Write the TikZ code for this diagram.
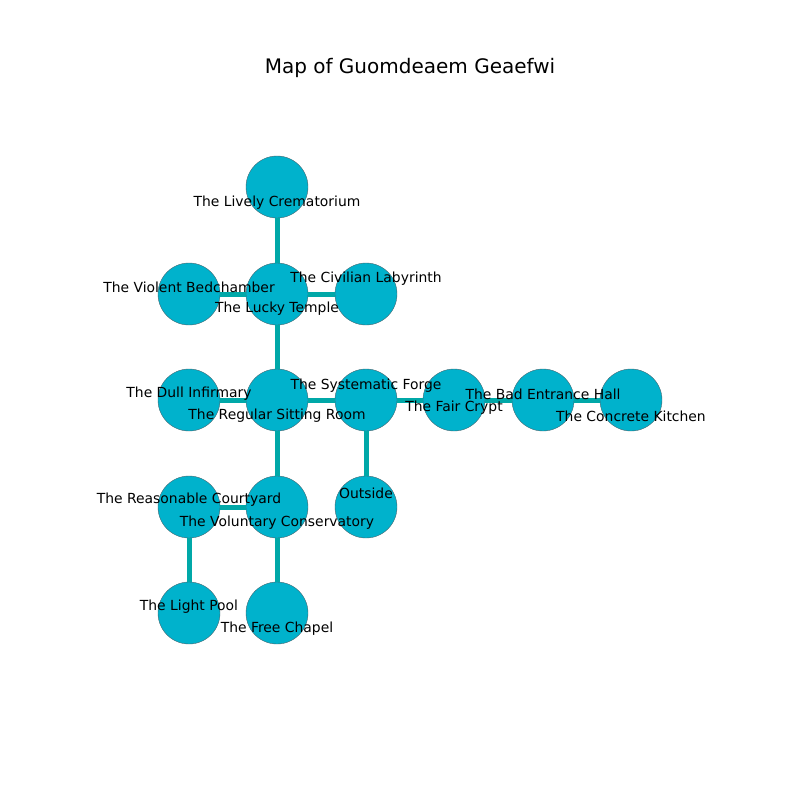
\documentclass[tikz,border=0pt]{standalone}
\usepackage{fontspec}
\setmainfont{DejaVu Sans}
\definecolor{nodefill}{RGB}{0,178,204}
\definecolor{edgecol}{RGB}{0,168,168}
\definecolor{rimcol}{RGB}{70,100,110}
\begin{document}
\begin{tikzpicture}[x=1pt,y=-1pt,
  room/.style={circle,fill=nodefill,draw=rimcol,line width=0.4pt,minimum size=62pt,inner sep=0pt},
  lbl/.style={inner sep=0pt,font=\fontsize{13.9}{16}\selectfont},
  link/.style={draw=edgecol,line width=5pt}]
\useasboundingbox (0,0) rectangle (800,800);
\node[font=\fontsize{20}{24}\selectfont] (title) at (410,68) {Map of Guomdeaem Geaefwi};
% nodes
\node[room] (cre) at (277,187) {};
\node[room] (luc) at (277,294) {};
\node[room] (vio) at (189,294) {};
\node[room] (civ) at (366,294) {};
\node[room] (dul) at (189,400) {};
\node[room] (reg) at (277,400) {};
\node[room] (sys) at (366,400) {};
\node[room] (fai) at (454,400) {};
\node[room] (bad) at (543,400) {};
\node[room] (con) at (631,400) {};
\node[room] (rea) at (189,507) {};
\node[room] (vol) at (277,507) {};
\node[room] (out) at (366,507) {};
\node[room] (lig) at (189,613) {};
\node[room] (fre) at (277,613) {};
% edges
\path[link] (cre) -- (luc);
\path[link] (luc) -- (vio);
\path[link] (luc) -- (civ);
\path[link] (luc) -- (reg);
\path[link] (reg) -- (dul);
\path[link] (reg) -- (sys);
\path[link] (sys) -- (fai);
\path[link] (fai) -- (bad);
\path[link] (bad) -- (con);
\path[link] (sys) -- (out);
\path[link] (reg) -- (vol);
\path[link] (vol) -- (rea);
\path[link] (vol) -- (fre);
\path[link] (rea) -- (lig);
% labels
\node[lbl] (lcre) at (277,203) {The Lively Crematorium};
\node[lbl] (lluc) at (277,309) {The Lucky Temple};
\node[lbl] (lvio) at (189,287) {The Violent Bedchamber};
\node[lbl] (lciv) at (366,279) {The Civilian Labyrinth};
\node[lbl] (ldul) at (189,394) {The Dull Infirmary};
\node[lbl] (lreg) at (277,416) {The Regular Sitting Room};
\node[lbl] (lsys) at (366,386) {The Systematic Forge};
\node[lbl] (lfai) at (454,408) {The Fair Crypt};
\node[lbl] (lbad) at (543,394) {The Bad Entrance Hall};
\node[lbl] (lcon) at (631,416) {The Concrete Kitchen};
\node[lbl] (lrea) at (189,500) {The Reasonable Courtyard};
\node[lbl] (lvol) at (277,523) {The Voluntary Conservatory};
\node[lbl] (lout) at (366,493) {Outside};
\node[lbl] (llig) at (189,607) {The Light Pool};
\node[lbl] (lfre) at (277,629) {The Free Chapel};
\end{tikzpicture}
\end{document}
